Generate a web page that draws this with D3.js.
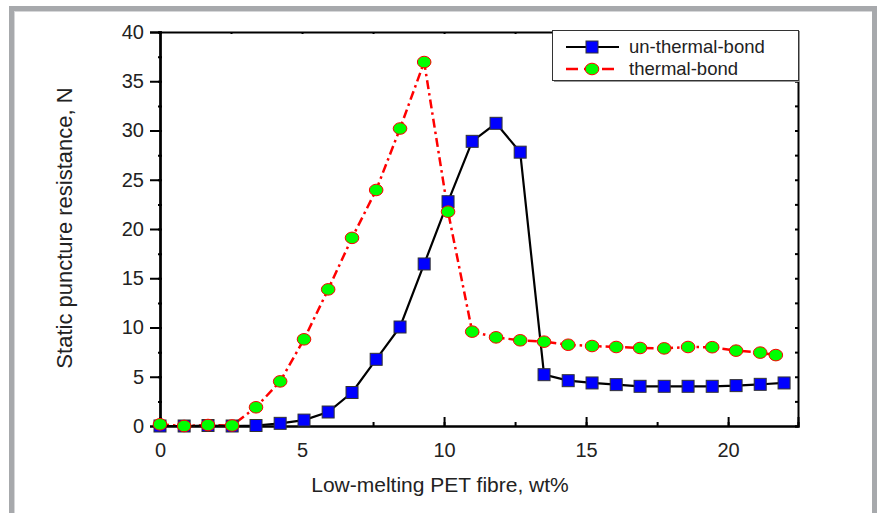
<!DOCTYPE html>
<html>
<head>
<meta charset="utf-8">
<title>Static puncture resistance</title>
<script src="https://cdn.jsdelivr.net/npm/d3@7"></script>
<style>
  body { margin: 0; background: #fff; }
  svg { display: block; font-family: "Liberation Sans", Arial, sans-serif; }
</style>
</head>
<body>
<div id="chart"></div>
<script>
// fibre content, wt%
var xUnbond = [0, 0.85, 1.69, 2.54, 3.38, 4.23, 5.07, 5.92, 6.76, 7.61, 8.45, 9.3, 10.14,
               10.99, 11.83, 12.68, 13.52, 14.37, 15.21, 16.06, 16.9, 17.75, 18.59, 19.44,
               20.28, 21.13, 21.97];
var yUnbond = [0, 0, 0.05, 0, 0.05, 0.27, 0.6, 1.42, 3.4, 6.77, 10.05, 16.45, 22.77,
               28.9, 30.73, 27.8, 5.21, 4.6, 4.37, 4.2, 4.03, 4.03, 4.03, 4.03,
               4.1, 4.23, 4.37];
var xBond = [0, 0.85, 1.69, 2.54, 3.38, 4.23, 5.07, 5.92, 6.76, 7.61, 8.45, 9.3, 10.14,
             10.99, 11.83, 12.68, 13.52, 14.37, 15.21, 16.06, 16.9, 17.75, 18.59, 19.44,
             20.28, 21.13, 21.68];
var yBond = [0.17, 0, 0.1, 0.05, 1.9, 4.53, 8.8, 13.87, 19.1, 23.96, 30.2, 36.95, 21.76,
             9.58, 9.0, 8.7, 8.56, 8.25, 8.12, 8.02, 7.92, 7.88, 8.02, 8.0,
             7.65, 7.45, 7.2];
var seriesNames = ["un-thermal-bond", "thermal-bond"];
var xTicks = [0, 5, 10, 15, 20];
var yTicks = [0, 5, 10, 15, 20, 25, 30, 35, 40];

var W = 877, H = 513;
var mLeft = 160, mRight = 798, mTop = 32, mBottom = 426;

var svg = d3.select("#chart").append("svg")
  .attr("width", W).attr("height", H);

// grey page frame
svg.append("rect").attr("x", 9).attr("y", 6).attr("width", 868).attr("height", 5).attr("fill", "#a7a9ac");
svg.append("rect").attr("x", 9).attr("y", 6).attr("width", 5).attr("height", 507).attr("fill", "#a7a9ac");
svg.append("rect").attr("x", 872).attr("y", 6).attr("width", 5).attr("height", 507).attr("fill", "#a7a9ac");
svg.append("rect").attr("x", 14).attr("y", 11).attr("width", 858).attr("height", 1).attr("fill", "#d6d7d9");
svg.append("rect").attr("x", 14).attr("y", 11).attr("width", 1).attr("height", 502).attr("fill", "#d6d7d9");

var x = d3.scaleLinear().domain([0, 22.46]).range([mLeft, mRight]);
var y = d3.scaleLinear().domain([0, 40]).range([mBottom, mTop]);

var minorX = d3.range(0, 22.5, 2.5);
var minorY = d3.range(0, 40.1, 2.5);

// bottom axis: inward ticks
var bx = svg.append("g").attr("transform", "translate(0," + mBottom + ")");
bx.call(d3.axisBottom(x).tickValues(minorX).tickSize(-4).tickFormat(""));
bx.append("g").call(d3.axisBottom(x).tickValues(xTicks).tickSize(-9).tickPadding(17).tickFormat(d3.format("d")));

// left axis: outward major, crossing minor
var ly = svg.append("g").attr("transform", "translate(" + mLeft + ",0)");
ly.call(d3.axisLeft(y).tickValues(yTicks).tickSize(10).tickPadding(6).tickFormat(d3.format("d")));
ly.append("g").call(d3.axisLeft(y).tickValues(minorY).tickSize(2).tickFormat(""));
ly.append("g").call(d3.axisRight(y).tickValues(minorY).tickSize(2).tickFormat(""));

// top and right axes
svg.append("g").attr("transform", "translate(0," + mTop + ")")
  .call(d3.axisTop(x).tickValues(minorX).tickSize(-2).tickFormat(""));
svg.append("g").attr("transform", "translate(" + mRight + ",0)")
  .call(d3.axisRight(y).tickValues(minorY).tickSize(-3).tickFormat(""));

svg.selectAll(".domain").attr("stroke", "#000").attr("stroke-width", 2);
svg.selectAll(".tick line").attr("stroke", "#000").attr("stroke-width", 2);
svg.selectAll(".tick text").attr("font-size", 20).attr("fill", "#222")
  .attr("font-family", "Liberation Sans, Arial, sans-serif");

// axis titles
svg.append("text").attr("x", 440).attr("y", 492)
  .attr("text-anchor", "middle").attr("font-size", 21).attr("fill", "#222")
  .text("Low-melting PET fibre, wt%");
svg.append("text").attr("transform", "translate(72,228) rotate(-90)")
  .attr("text-anchor", "middle").attr("font-size", 22).attr("fill", "#222")
  .text("Static puncture resistance, N");

var unbond = xUnbond.map(function (d, i) { return [d, yUnbond[i]]; });
var bond = xBond.map(function (d, i) { return [d, yBond[i]]; });
var line = d3.line().x(function (d) { return x(d[0]); }).y(function (d) { return y(d[1]); });

svg.append("path").datum(bond).attr("d", line)
  .attr("fill", "none").attr("stroke", "#ff0000").attr("stroke-width", 2.5)
  .attr("stroke-dasharray", "9,4,2.5,4");
svg.append("path").datum(unbond).attr("d", line)
  .attr("fill", "none").attr("stroke", "#000").attr("stroke-width", 2.2);

svg.selectAll("rect.sq").data(unbond).enter().append("rect").attr("class", "sq")
  .attr("x", function (d) { return x(d[0]) - 6; })
  .attr("y", function (d) { return y(d[1]) - 6; })
  .attr("width", 12).attr("height", 12)
  .attr("fill", "#0000ff").attr("stroke", "#333").attr("stroke-width", 1);

svg.selectAll("ellipse.ci").data(bond).enter().append("ellipse").attr("class", "ci")
  .attr("cx", function (d) { return x(d[0]); })
  .attr("cy", function (d) { return y(d[1]); })
  .attr("rx", 6.8).attr("ry", 5.8)
  .attr("fill", "#00ff00").attr("stroke", "#ff0000").attr("stroke-width", 1);

// legend
var lg = svg.append("g");
lg.append("rect").attr("x", 554).attr("y", 32).attr("width", 246).attr("height", 50).attr("fill", "#999");
lg.append("rect").attr("x", 552.5).attr("y", 30.5).attr("width", 246).attr("height", 50)
  .attr("fill", "#fff").attr("stroke", "#333").attr("stroke-width", 1);

lg.append("line").attr("x1", 566).attr("x2", 619).attr("y1", 47).attr("y2", 47)
  .attr("stroke", "#000").attr("stroke-width", 2.2);
lg.append("rect").attr("x", 586).attr("y", 41).attr("width", 12).attr("height", 12)
  .attr("fill", "#0000ff").attr("stroke", "#333");
lg.append("line").attr("x1", 566).attr("x2", 619).attr("y1", 69).attr("y2", 69)
  .attr("stroke", "#ff0000").attr("stroke-width", 2.5).attr("stroke-dasharray", "12,6");
lg.append("ellipse").attr("cx", 592).attr("cy", 69).attr("rx", 6.8).attr("ry", 5.8)
  .attr("fill", "#00ff00").attr("stroke", "#ff0000");

lg.selectAll("text.lt").data(seriesNames).enter().append("text").attr("class", "lt")
  .attr("x", 629).attr("y", function (d, i) { return 53 + i * 22; })
  .attr("font-size", 18.5).attr("fill", "#222")
  .text(function (d) { return d; });
</script>
</body>
</html>
